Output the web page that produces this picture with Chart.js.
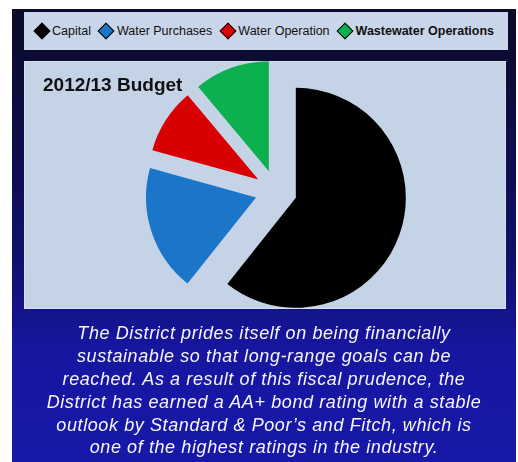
<!DOCTYPE html>
<html>
<head>
<meta charset="utf-8">
<script src="https://cdn.jsdelivr.net/npm/chart.js@4"></script>
<style>
  body {
    margin: 0;
    width: 518px;
    height: 462px;
    overflow: hidden;
    position: relative;
    background: #ffffff;
    font-family: "Liberation Sans", Arial, sans-serif;
  }
  .frame {
    position: absolute;
    left: 12px;
    top: 9px;
    width: 504px;
    height: 453px;
    background: linear-gradient(to bottom, #0a0a2a 0%, #0c0c38 15%, #10106c 55%, #1616a0 75%, #1818a8 100%);
  }
  .legend-box {
    position: absolute;
    left: 24px;
    top: 12px;
    width: 484px;
    height: 38px;
    background: #c9d5e8;
    display: flex;
    align-items: center;
    padding-left: 9px;
    box-sizing: border-box;
  }
  .legend-item {
    display: flex;
    align-items: center;
    margin-right: 7px;
    font-size: 12.5px;
    color: #111;
    white-space: nowrap;
  }
  .legend-item .swatch {
    width: 10px;
    height: 10px;
    border: 1.2px solid #000;
    transform: rotate(45deg);
    margin: 0 4.5px 0 2.5px;
  }
  .legend-item.strong { font-weight: bold; }
  .panel {
    position: absolute;
    left: 24px;
    top: 61px;
    width: 482px;
    height: 248px;
    background: #c5d3e7;
    border: 1px solid #d6e0ee;
    box-sizing: border-box;
  }
  #budgetChart {
    position: absolute;
    left: 0;
    top: 0;
  }
  .blurb {
    position: absolute;
    left: 12px;
    top: 322.4px;
    width: 504px;
    text-align: center;
    font-style: italic;
    font-size: 18px;
    letter-spacing: 0.6px;
    line-height: 22.8px;
    color: #f6f6ff;
    white-space: nowrap;
  }
</style>
</head>
<body>
<div class="frame"></div>
<div class="legend-box" id="legendBox"></div>
<div class="panel"></div>
<canvas id="budgetChart" width="518" height="462"></canvas>
<div class="blurb">
  The District prides itself on being financially<br>
  sustainable so that long-range goals can be<br>
  reached. As a result of this fiscal prudence, the<br>
  District has earned a AA+ bond rating with a stable<br>
  outlook by Standard &amp; Poor’s and Fitch, which is<br>
  one of the highest ratings in the industry.
</div>
<script>
// budget split, percent of total
const categories = ["Capital", "Water Purchases", "Water Operation", "Wastewater Operations"];
const shares = [60.7, 18.6, 9.6, 11.1];
const sliceColors = ["#000000", "#1b76c9", "#d80000", "#0cb04f"];
// how far each wedge is pulled out from the centre (px)
const sliceOffsets = [21, 21, 21, 21];

// moves every arc out along its mid angle, keeping the radius unchanged
// (the built-in offset option also grows the radius of wide slices)
const explodePlugin = {
  id: "explode",
  afterDatasetUpdate(chart, args) {
    args.meta.data.forEach((arc, i) => {
      const mid = (arc.startAngle + arc.endAngle) / 2;
      const d = sliceOffsets[i] || 0;
      arc.x += Math.cos(mid) * d;
      arc.y += Math.sin(mid) * d;
    });
  },
};

const ctx = document.getElementById("budgetChart").getContext("2d");
const chart = new Chart(ctx, {
  type: "pie",
  data: {
    labels: categories,
    datasets: [
      {
        data: shares,
        backgroundColor: sliceColors,
        borderWidth: 0,
        clip: false,
      },
    ],
  },
  options: {
    responsive: false,
    animation: false,
    radius: 110,
    layout: {
      padding: { left: 43, right: 9, top: 74, bottom: 177 },
    },
    plugins: {
      legend: { display: false },
      tooltip: { enabled: false },
      title: {
        display: true,
        text: "2012/13 Budget",
        align: "start",
        color: "#111111",
        font: { family: "'Liberation Sans', Arial, sans-serif", size: 19, weight: "bold" },
        padding: { top: 0, bottom: 0 },
      },
    },
  },
  plugins: [explodePlugin],
});

// html legend built from the chart's own legend items
const legendBox = document.getElementById("legendBox");
const items = chart.options.plugins.legend.labels.generateLabels(chart);
legendBox.innerHTML = items
  .map(
    (item, i) => `
      <div class="legend-item${i === items.length - 1 ? " strong" : ""}">
        <span class="swatch" style="background:${item.fillStyle}"></span>
        <span>${item.text}</span>
      </div>`
  )
  .join("");
</script>
</body>
</html>
